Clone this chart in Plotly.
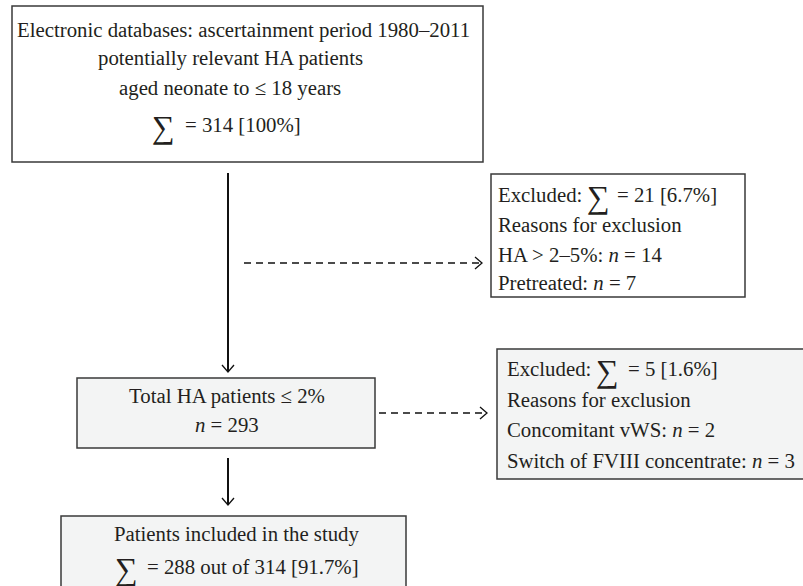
import plotly.graph_objects as go

# ---- chart content (values) ----
total_patients = 314
excluded_first = 21
excluded_first_pct = "6.7%"
ha_over = 14
pretreated = 7
total_le2 = 293
excluded_second = 5
excluded_second_pct = "1.6%"
concomitant_vws = 2
switch_fviii = 3
included = 288
included_pct = "91.7%"

box1_lines = [
    "Electronic databases: ascertainment period 1980–2011",
    "potentially relevant HA patients",
    "aged neonate to ≤ 18 years",
]
box2_lines = [
    "Reasons for exclusion",
    f"HA > 2–5%: <i>n</i> = {ha_over}",
    f"Pretreated: <i>n</i> = {pretreated}",
]
box3_lines = ["Total HA patients ≤ 2%", f"<i>n</i> = {total_le2}"]
box4_lines = [
    "Reasons for exclusion",
    f"Concomitant vWS: <i>n</i> = {concomitant_vws}",
    f"Switch of FVIII concentrate: <i>n</i> = {switch_fviii}",
]
box5_line = "Patients included in the study"

# ---- layout helpers ----
W, H = 803, 586
FONT = "Liberation Serif"
FS = 20.8
SIG = 32
TXT = "#231f20"
EDGE = "#3a3a3a"
GRAY = "#f3f4f4"

shapes = []
annotations = []


def box(x0, y0, x1, y1, fill):
    shapes.append(dict(type="rect", xref="x", yref="y", x0=x0, y0=y0, x1=x1, y1=y1,
                       line=dict(color=EDGE, width=1.5), fillcolor=fill, layer="below"))


def text(x, base, s, anchor="left", size=FS):
    dx = -2 if anchor == "left" else 0
    annotations.append(dict(x=x + dx, y=base - 0.30 * size, xref="x", yref="y", text=s,
                            showarrow=False, xanchor=anchor, yanchor="middle",
                            font=dict(family=FONT, size=size, color=TXT)))


def sigma(x, base):
    annotations.append(dict(x=x - 2, y=base + 6 - 0.30 * SIG, xref="x", yref="y", text="∑",
                            showarrow=False, xanchor="left", yanchor="middle",
                            font=dict(family=FONT, size=SIG, color=TXT)))


def line(x0, y0, x1, y1, dash=None, width=1.8):
    ln = dict(color="#111111", width=width)
    if dash:
        ln["dash"] = dash
    shapes.append(dict(type="line", xref="x", yref="y", x0=x0, y0=y0, x1=x1, y1=y1, line=ln))


def head_down(x, y):
    shapes.append(dict(type="path", xref="x", yref="y",
                       path=f"M {x-6},{y-7} L {x},{y} L {x+6},{y-7}",
                       line=dict(color="#111111", width=1.3)))


def head_right(x, y):
    shapes.append(dict(type="path", xref="x", yref="y",
                       path=f"M {x-7},{y-6} L {x},{y} L {x-7},{y+6}",
                       line=dict(color="#111111", width=1.3)))


# boxes
box(12, 6, 483, 162, "white")
box(491, 174, 745, 297, "white")
box(77, 378, 375, 448, GRAY)
box(497, 349, 810, 479, GRAY)
box(61, 516, 406, 595, GRAY)

# arrows
line(228, 173, 228, 372, width=2)
head_down(228, 372)
line(244, 263, 481, 263, dash="7px,5px", width=1.3)
head_right(482, 263)
line(379, 413, 486, 413, dash="7px,5px", width=1.3)
head_right(487, 413)
line(228, 458, 228, 505, width=2)
head_down(228, 505)

# box 1 text
text(17, 36, box1_lines[0])
text(230, 64, box1_lines[1], anchor="center")
text(230, 94, box1_lines[2], anchor="center")
sigma(152, 131)
text(185, 131, f"= {total_patients} [100%]")

# box 2 text
text(498, 201, "Excluded:")
sigma(587, 201)
text(617, 201, f"= {excluded_first} [{excluded_first_pct}]")
for i, s in enumerate(box2_lines):
    text(498, [231, 261, 289][i], s)

# box 3 text
text(227, 402, box3_lines[0], anchor="center")
text(227, 431, box3_lines[1], anchor="center")

# box 4 text
text(507, 375, "Excluded:")
sigma(596, 375)
text(628, 375, f"= {excluded_second} [{excluded_second_pct}]")
for i, s in enumerate(box4_lines):
    text(507, [406, 436, 467][i], s)

# box 5 text
text(237, 540, box5_line, anchor="center")
sigma(115, 573)
text(147, 573, f"= {included} out of {total_patients} [{included_pct}]")

fig = go.Figure()
fig.update_layout(
    width=W, height=H, margin=dict(l=0, r=0, t=0, b=0),
    paper_bgcolor="white", plot_bgcolor="white",
    xaxis=dict(range=[0, W], visible=False, fixedrange=True),
    yaxis=dict(range=[H, 0], visible=False, fixedrange=True),
    shapes=shapes, annotations=annotations, showlegend=False,
)
fig.write_html(
    "out.html",
    config={"displayModeBar": False, "staticPlot": True},
    post_script="document.body.style.margin='0px';document.body.style.overflow='hidden';",
)
